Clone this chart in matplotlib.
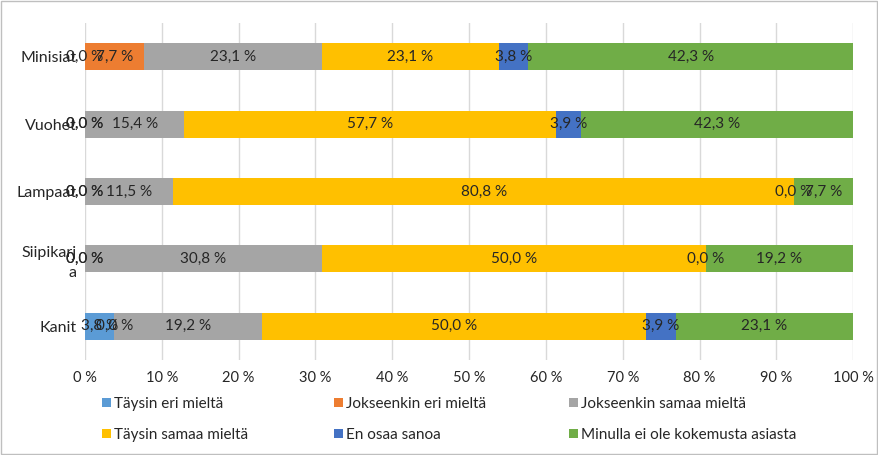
import matplotlib
matplotlib.use("Agg")
import matplotlib.pyplot as plt
import numpy as np

plt.rcParams['font.family'] = ['Lato', 'DejaVu Sans']

categories = ["Minisiat", "Vuohet", "Lampaat", "Siipikarj\na", "Kanit"]
series_names = ["Täysin eri mieltä", "Jokseenkin eri mieltä", "Jokseenkin samaa mieltä",
                "Täysin samaa mieltä", "En osaa sanoa", "Minulla ei ole kokemusta asiasta"]
colors = ["#5B9BD5", "#ED7D31", "#A5A5A5", "#FFC000", "#4472C4", "#70AD47"]

# values (percent labels) per series, in category order
taysin_eri = [0.0, 0.0, 0.0, 0.0, 3.8]
jokseenkin_eri = [7.7, 0.0, 0.0, 0.0, 0.0]
jokseenkin_samaa = [23.1, 15.4, 11.5, 30.8, 19.2]
taysin_samaa = [23.1, 57.7, 80.8, 50.0, 50.0]
en_osaa = [3.8, 3.9, 0.0, 0.0, 3.9]
ei_kokemusta = [42.3, 42.3, 7.7, 19.2, 23.1]

data = np.array([taysin_eri, jokseenkin_eri, jokseenkin_samaa, taysin_samaa, en_osaa, ei_kokemusta])
totals = data.sum(axis=0)
shares = data / totals * 100  # 100 % stacked

W, H = 879, 455
fig = plt.figure(figsize=(W / 100, H / 100), dpi=100)
ax = fig.add_axes([0.0967, 0.209, 0.874, 0.74])

y = np.arange(len(categories))
left = np.zeros(len(categories))
handles = []
for i, name in enumerate(series_names):
    h = ax.barh(y, shares[i], left=left, height=0.4, color=colors[i], label=name, zorder=3)
    handles.append(h)
    for j in range(len(categories)):
        cx = left[j] + shares[i][j] / 2
        ax.text(cx, y[j], f"{data[i][j]:.1f} %".replace(".", ","), ha="center", va="center",
                fontsize=11, color="#262626", zorder=4)
    left = left + shares[i]

ax.set_xlim(0, 100)
ax.set_ylim(len(categories) - 0.5, -0.5)
ax.set_yticks(y)
ax.set_yticklabels(categories, fontsize=11.5, color="#262626", linespacing=1.5)
ax.set_xticks(np.arange(0, 101, 10))
ax.set_xticklabels([f"{v} %" for v in range(0, 101, 10)], fontsize=10.5, color="#262626")
ax.tick_params(axis="both", length=0)
ax.tick_params(axis="x", pad=8)
ax.tick_params(axis="y", pad=6)
ax.grid(axis="x", color="#D9D9D9", linewidth=1, zorder=0)
for s in ax.spines.values():
    s.set_visible(False)

# legend: three columns, two rows (row-major order)
col_x = [102, 334, 569]
for c in range(3):
    idx = [c, c + 3]
    leg = fig.legend([handles[k] for k in idx], [series_names[k] for k in idx],
                     loc="upper left", bbox_to_anchor=(col_x[c] / W, 1 - 397 / H), ncol=1,
                     frameon=False, fontsize=11, handlelength=0.6, handleheight=0.6,
                     handletextpad=0.2, labelspacing=1.1, borderpad=0, borderaxespad=0)
    for t in leg.get_texts():
        t.set_color("#262626")

fig.add_artist(plt.Rectangle((0.001, 0.002), 0.997, 0.995, transform=fig.transFigure,
                             fill=False, edgecolor="#BFBFBF", linewidth=1))

fig.savefig("out.png", dpi=100)
